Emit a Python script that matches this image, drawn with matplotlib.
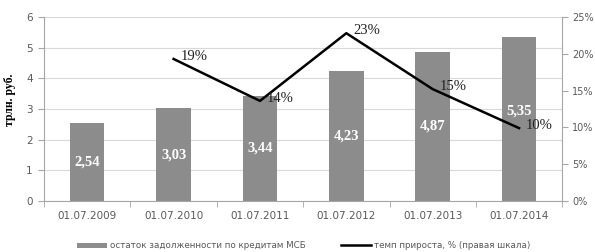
import matplotlib.pyplot as plt
import numpy as np

dates = ["01.07.2009", "01.07.2010", "01.07.2011", "01.07.2012", "01.07.2013", "01.07.2014"]
debt = [2.54, 3.03, 3.44, 4.23, 4.87, 5.35]
debt_labels = ["2,54", "3,03", "3,44", "4,23", "4,87", "5,35"]
growth = [None, 19.3, 13.6, 22.8, 15.2, 9.9]
growth_labels = ["", "19%", "14%", "23%", "15%", "10%"]

grey = "#8c8c8c"
axis_col = "#a6a6a6"
text_col = "#595959"

fig = plt.figure(figsize=(5.95, 2.52), dpi=100)
ax = fig.add_axes([0.074, 0.2024, 0.871, 0.7301])
x = np.arange(len(dates))

bars = ax.bar(x, debt, width=0.4, color=grey, zorder=2,
              label="остаток задолженности по кредитам МСБ")
texts = ax.bar_label(bars, labels=debt_labels, label_type="center", color="white",
                     fontsize=10.5, fontweight="bold", family="Liberation Serif")
# last label sits a bit higher so it clears the 10% label
texts[-1].xyann = (0, 6)

ax.set_xlim(-0.5, 5.5)
ax.set_ylim(0, 6)
ax.set_yticks(range(7))
ax.grid(axis="y", color="#d9d9d9", lw=0.8, zorder=0)
ax.set_xticks(x)
ax.set_xticklabels(dates)
ax.set_xticks(np.arange(-0.5, 6, 1), minor=True)
ax.tick_params(axis="x", which="major", length=0, pad=7, labelsize=7.5, labelcolor=text_col)
ax.tick_params(axis="x", which="minor", length=4, color=axis_col)
ax.tick_params(axis="y", length=4, color=axis_col, labelsize=7.5, labelcolor=text_col, pad=4)
for s in ["top", "right"]:
    ax.spines[s].set_visible(False)
for s in ["left", "bottom"]:
    ax.spines[s].set_color(axis_col)
ax.set_ylabel("трлн. руб.", family="Liberation Serif", fontweight="bold", fontsize=8.5)
ax.yaxis.set_label_coords(-0.055, 0.55)

ax2 = ax.twinx()
gx = [i for i, g in enumerate(growth) if g is not None]
gy = [g for g in growth if g is not None]
ax2.plot(gx, gy, color="black", lw=1.8, zorder=3,
         label="темп прироста, % (правая шкала)")
for i in gx:
    ax2.annotate(growth_labels[i], (i, growth[i]), xytext=(5, 2), textcoords="offset points",
                 ha="left", va="center", fontsize=10.5, family="Liberation Serif", color="#222222")
ax2.set_ylim(0, 25)
ax2.set_yticks(range(0, 26, 5))
ax2.set_yticklabels([f"{v}%" for v in range(0, 26, 5)])
ax2.tick_params(axis="y", length=4, color=axis_col, labelsize=7, labelcolor=text_col, pad=3)
for s in ["top", "left", "bottom"]:
    ax2.spines[s].set_visible(False)
ax2.spines["right"].set_color(axis_col)

h1, l1 = ax.get_legend_handles_labels()
h2, l2 = ax2.get_legend_handles_labels()
fig.legend(h1 + h2, l1 + l2, loc="center", bbox_to_anchor=(0.51, 0.025), ncol=2,
           frameon=False, fontsize=6.3, labelcolor=text_col, handlelength=3.5,
           handleheight=0.5, columnspacing=4, handletextpad=0.3)

fig.savefig("out.png", dpi=100)
